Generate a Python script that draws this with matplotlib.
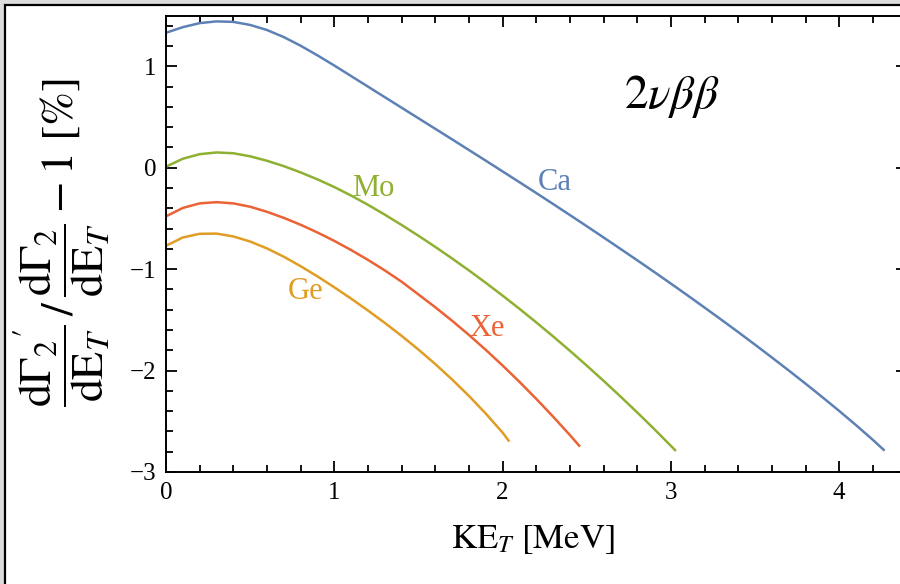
import matplotlib
matplotlib.use("Agg")
import matplotlib.pyplot as plt
from matplotlib.patches import Rectangle
from matplotlib.ticker import MultipleLocator

plt.rcParams['font.family'] = ['Liberation Serif', 'DejaVu Serif']
plt.rcParams['mathtext.fontset'] = 'stix'

# ---- data ----
ca_x = [0.0, 0.1, 0.2, 0.3, 0.4, 0.5, 0.6, 0.7, 0.8, 0.9, 1.0, 1.1, 1.2, 1.3, 1.4, 1.5,
        1.6, 1.7, 1.8, 1.9, 2.0, 2.1, 2.2, 2.3, 2.4, 2.5, 2.6, 2.7, 2.8, 2.9, 3.0, 3.1,
        3.2, 3.3, 3.4, 3.5, 3.6, 3.7, 3.8, 3.9, 4.0, 4.1, 4.2, 4.27]
ca_y = [1.330, 1.385, 1.425, 1.442, 1.437, 1.407, 1.357, 1.287, 1.202, 1.107, 1.007, 0.903,
        0.799, 0.695, 0.591, 0.487, 0.383, 0.279, 0.174, 0.069, -0.037, -0.143, -0.250, -0.358,
        -0.467, -0.577, -0.688, -0.800, -0.913, -1.027, -1.143, -1.260, -1.379, -1.499, -1.621,
        -1.745, -1.871, -1.999, -2.129, -2.262, -2.398, -2.538, -2.683, -2.790]

mo_x = [0.0, 0.1, 0.2, 0.3, 0.4, 0.5, 0.6, 0.7, 0.8, 0.9, 1.0, 1.1, 1.2, 1.3, 1.4, 1.5,
        1.6, 1.7, 1.8, 1.9, 2.0, 2.1, 2.2, 2.3, 2.4, 2.5, 2.6, 2.7, 2.8, 2.9, 3.0, 3.03]
mo_y = [0.010, 0.088, 0.133, 0.150, 0.142, 0.112, 0.068, 0.015, -0.047, -0.115, -0.191, -0.275,
        -0.366, -0.463, -0.565, -0.671, -0.781, -0.895, -1.013, -1.135, -1.261, -1.391, -1.525,
        -1.663, -1.805, -1.951, -2.101, -2.255, -2.413, -2.575, -2.742, -2.793]

xe_x = [0.0, 0.1, 0.2, 0.3, 0.4, 0.5, 0.6, 0.7, 0.8, 0.9, 1.0, 1.1, 1.2, 1.3, 1.4, 1.5,
        1.6, 1.7, 1.8, 1.9, 2.0, 2.1, 2.2, 2.3, 2.4, 2.46]
xe_y = [-0.480, -0.397, -0.352, -0.340, -0.352, -0.385, -0.435, -0.495, -0.563, -0.639,
        -0.722, -0.812, -0.909, -1.013, -1.124, -1.250, -1.376, -1.509, -1.649, -1.796,
        -1.950, -2.111, -2.279, -2.454, -2.636, -2.750]

ge_x = [0.0, 0.1, 0.2, 0.3, 0.4, 0.5, 0.6, 0.7, 0.8, 0.9, 1.0, 1.1, 1.2, 1.3, 1.4, 1.5,
        1.6, 1.7, 1.8, 1.9, 2.0, 2.04]
ge_y = [-0.770, -0.688, -0.652, -0.650, -0.678, -0.728, -0.796, -0.878, -0.971, -1.072,
        -1.179, -1.291, -1.408, -1.530, -1.658, -1.793, -1.936, -2.088, -2.250, -2.424,
        -2.612, -2.700]

labels = ["Ca", "Mo", "Xe", "Ge"]
label_x = [2.31, 1.23, 1.91, 0.83]
label_y = [-0.15, -0.21, -1.59, -1.22]
colors = ["#5E81B5", "#8FB032", "#EB6235", "#E19C24"]

# ---- figure ----
fig = plt.figure(figsize=(9, 5.84), dpi=100)
fig.patch.set_facecolor('#dcdcdc')
W, H = 900.0, 584.0
frame = Rectangle((5 / W, -0.05), 1.1, 1 - 5 / H + 0.05, transform=fig.transFigure,
                  facecolor='white', edgecolor='black', lw=1.6, zorder=-5)
fig.patches.append(frame)

left = 166 / W
bottom = (H - 472) / H
width = (906.5 - 166) / W
height = (472 - 15.5) / H
ax = fig.add_axes([left, bottom, width, height])
ax.set_zorder(2)
ax.set_facecolor('none')

series = [(ca_x, ca_y), (mo_x, mo_y), (xe_x, xe_y), (ge_x, ge_y)]
for (xs, ys), c in zip(series, colors):
    ax.plot(xs, ys, color=c, lw=1.8, solid_capstyle='butt', solid_joinstyle='round')

for t, lx, ly, c in zip(labels, label_x, label_y, colors):
    ax.text(lx, ly, t, color=c, fontsize=22, ha='center', va='center')

ax.set_xlim(0, 4.4)
ax.set_ylim(-3, 1.5)
ax.xaxis.set_major_locator(MultipleLocator(1))
ax.xaxis.set_minor_locator(MultipleLocator(0.2))
ax.yaxis.set_major_locator(MultipleLocator(1))
ax.yaxis.set_minor_locator(MultipleLocator(0.2))
ax.tick_params(which='both', direction='in', top=True, right=True, width=1.3, labelsize=18)
ax.tick_params(which='major', length=8, pad=7)
ax.tick_params(which='minor', length=5)
for lab in ax.get_xticklabels() + ax.get_yticklabels():
    lab.set_fontfamily(['Liberation Serif', 'DejaVu Serif'])
for s in ax.spines.values():
    s.set_linewidth(1.4)

fig.text(533 / W, 1 - 540 / H, r'$\mathrm{KE}_{T}\ [\mathrm{MeV}]$', fontsize=25,
         ha='center', va='center')
fig.text(62 / W, 1 - 243 / H,
         r'$\dfrac{\mathrm{d}\Gamma_{2}{}^{\prime}}{\mathrm{dE}_{T}}\,/\,\dfrac{\mathrm{d}\Gamma_{2}}{\mathrm{dE}_{T}}-1\ [\%]$',
         fontsize=33, rotation=90, ha='center', va='center')
fig.text(672 / W, 1 - 97 / H, r'$2\nu\beta\beta$', fontsize=34, ha='center', va='center')

fig.savefig('out.png', dpi=100, facecolor=fig.get_facecolor())
